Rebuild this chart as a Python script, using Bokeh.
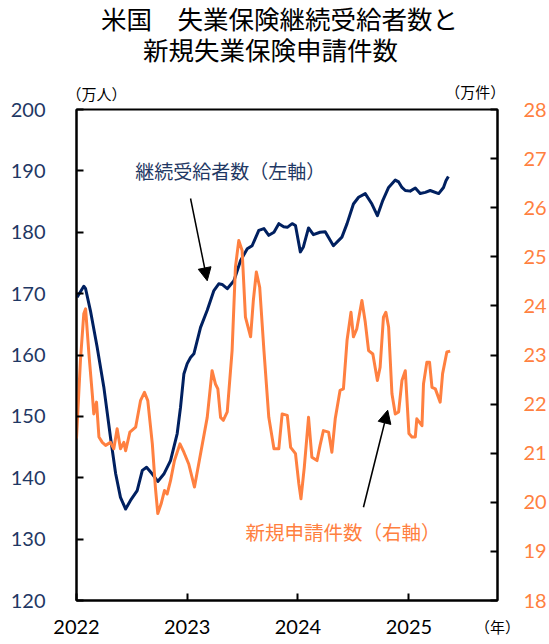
import pandas as pd
from bokeh.plotting import figure
from bokeh.models import (Range1d, LinearAxis, FixedTicker, DatetimeTickFormatter,
                          Label, Arrow, NormalHead)
from bokeh.embed import file_html
from bokeh.resources import INLINE

# ---- data ----
cont_dates = ["2022-01-03", "2022-01-25", "2022-01-31", "2022-02-16", "2022-03-10", "2022-04-01",
              "2022-04-23", "2022-05-10", "2022-05-26", "2022-06-12", "2022-06-28", "2022-07-20",
              "2022-08-06", "2022-08-20", "2022-09-08", "2022-09-26", "2022-10-16", "2022-11-07",
              "2022-11-29", "2022-12-10", "2022-12-21",
              "2023-01-01", "2023-01-12", "2023-01-23", "2023-02-14", "2023-03-08", "2023-03-30",
              "2023-04-15", "2023-04-26", "2023-05-13", "2023-06-04", "2023-06-26", "2023-07-18",
              "2023-08-03", "2023-08-25", "2023-09-11", "2023-09-27", "2023-10-14", "2023-10-30",
              "2023-11-15", "2023-11-27", "2023-12-13", "2023-12-24",
              "2024-01-09", "2024-01-19", "2024-02-05", "2024-02-21", "2024-03-14", "2024-03-31",
              "2024-04-27", "2024-05-25", "2024-06-11", "2024-07-02", "2024-07-19", "2024-08-10",
              "2024-09-01", "2024-09-19", "2024-10-07", "2024-10-26", "2024-11-17", "2024-11-28",
              "2024-12-09", "2024-12-20",
              "2025-01-05", "2025-01-22", "2025-02-07", "2025-02-24", "2025-03-12", "2025-04-09",
              "2025-04-25", "2025-05-03", "2025-05-11"]
cont_values = [169.4, 171.2, 170.8, 167.2, 161.3, 154.8, 146.6, 140.7, 136.8, 134.9, 136.3, 137.9,
               141.2, 141.7, 140.6, 139.4, 140.6, 142.8, 147.2, 151.5, 156.9,
               158.6, 159.6, 160.2, 164.5, 167.3, 170.5, 171.6, 171.5, 170.8, 172.1, 175.4, 177.3,
               177.8, 180.3, 180.6, 179.5, 180.0, 181.4, 180.9, 180.8, 181.4, 181.1,
               176.8, 177.6, 180.7, 179.6, 180.0, 180.1, 177.8, 179.2, 181.4, 184.6, 185.7, 186.3,
               184.6, 182.7, 185.2, 187.3, 188.5, 188.2, 187.3, 186.8,
               186.7, 187.2, 186.3, 186.5, 186.8, 186.3, 187.3, 188.4, 189.1]

init_dates = ["2022-01-01", "2022-01-14", "2022-01-25", "2022-01-31", "2022-02-11", "2022-02-22",
              "2022-02-27", "2022-03-08", "2022-03-16", "2022-03-27", "2022-04-07", "2022-04-23",
              "2022-05-04", "2022-05-15", "2022-05-26", "2022-06-06", "2022-06-12", "2022-06-26",
              "2022-07-15", "2022-07-31", "2022-08-13", "2022-08-24", "2022-09-08", "2022-09-18",
              "2022-09-26", "2022-10-07", "2022-10-18", "2022-10-27", "2022-11-07", "2022-11-20",
              "2022-12-08", "2022-12-21",
              "2023-01-06", "2023-01-25", "2023-02-14", "2023-03-08", "2023-03-24", "2023-04-04",
              "2023-04-12", "2023-04-21", "2023-04-30", "2023-05-13", "2023-05-29", "2023-06-09",
              "2023-06-20", "2023-07-01", "2023-07-12", "2023-07-29", "2023-08-07", "2023-08-17",
              "2023-08-28", "2023-09-11", "2023-09-27", "2023-10-14", "2023-10-30", "2023-11-10",
              "2023-11-27", "2023-12-08", "2023-12-24",
              "2024-01-04", "2024-01-11", "2024-01-22", "2024-02-05", "2024-02-16", "2024-03-04",
              "2024-03-14", "2024-03-25", "2024-04-11", "2024-04-22", "2024-05-03", "2024-05-19",
              "2024-05-30", "2024-06-11", "2024-06-24", "2024-07-02", "2024-07-13", "2024-07-30",
              "2024-08-10", "2024-08-21", "2024-09-04", "2024-09-19", "2024-09-28", "2024-10-09",
              "2024-10-17", "2024-10-26", "2024-11-06", "2024-11-17", "2024-11-28", "2024-12-09",
              "2024-12-20",
              "2025-01-01", "2025-01-11", "2025-01-22", "2025-01-27", "2025-02-13", "2025-02-18",
              "2025-03-01", "2025-03-10", "2025-03-18", "2025-03-29", "2025-04-14", "2025-04-22",
              "2025-05-06", "2025-05-17"]
init_values = [21.3, 22.89, 23.84, 23.94, 23.02, 22.21, 21.80, 22.04, 21.33, 21.22, 21.16, 21.22,
               21.09, 21.50, 21.09, 21.22, 21.05, 21.43, 21.53, 22.07, 22.24, 22.07, 21.19, 20.31,
               19.77, 19.97, 20.24, 20.17, 20.44, 20.85, 21.19, 21.02,
               20.78, 20.31, 20.99, 21.73, 22.68, 22.41, 22.31, 21.73, 21.67, 21.84, 23.09, 24.79,
               25.33, 25.13, 23.77, 23.37, 24.11, 24.69, 24.38, 23.09, 21.73, 21.09, 21.09, 21.80,
               21.77, 21.12, 20.99,
               20.38, 20.07, 20.71, 21.73, 20.92, 20.85, 21.16, 21.46, 21.43, 21.02, 21.70, 22.28,
               22.31, 23.30, 23.87, 23.37, 23.53, 24.11, 23.67, 23.09, 23.02, 22.48, 22.75, 23.77,
               23.87, 23.57, 22.21, 21.80, 21.84, 22.48, 22.68,
               21.40, 21.33, 21.33, 21.70, 21.56, 22.41, 22.85, 22.85, 22.34, 22.31, 22.04, 22.62,
               23.06, 23.08]

year_ticks = ["2022-01-01", "2023-01-01", "2024-01-01", "2025-01-01"]
left_ticks = [120, 130, 140, 150, 160, 170, 180, 190, 200]
right_ticks = [18, 19, 20, 21, 22, 23, 24, 25, 26, 27, 28]
title_lines = ["米国　失業保険継続受給者数と", "新規失業保険申請件数"]
cont_name = "継続受給者数（左軸）"
init_name = "新規申請件数（右軸）"
left_unit = "（万人）"
right_unit = "（万件）"
x_unit = "（年）"

NAVY = "#002060"
NAVY_TXT = "#1F3864"
ORANGE = "#FF8040"
JP = "Noto Sans CJK JP"
# compact-metric family first, CJK glyphs fall back to Noto Sans CJK JP
JP_PANEL = "Liberation Sans, Noto Sans CJK JP"
NUM = "Lato"


def ms(d):
    return pd.Timestamp(d).value / 1e6


p = figure(width=549, height=644, x_axis_type="datetime", output_backend="svg",
           toolbar_location=None,
           x_range=Range1d(pd.Timestamp("2022-01-01"), pd.Timestamp("2025-10-20")),
           y_range=Range1d(120, 200),
           min_border_left=76, min_border_right=52, min_border_top=109, min_border_bottom=44)
p.extra_y_ranges = {"r": Range1d(18, 28)}
p.xgrid.visible = False
p.ygrid.visible = False
p.outline_line_color = "black"
p.outline_line_width = 2
p.outline_line_alpha = 1.0
p.background_fill_color = "white"
p.border_fill_color = "white"

# axes
p.yaxis.ticker = FixedTicker(ticks=left_ticks)
p.xaxis.ticker = FixedTicker(ticks=[ms(d) for d in year_ticks])
p.xaxis.formatter = DatetimeTickFormatter(years="%Y", months="%Y", days="%Y", hours="%Y",
                                          minutes="%Y", seconds="%Y", milliseconds="%Y",
                                          microseconds="%Y", hourmin="%Y", minsec="%Y")
raxis = LinearAxis(y_range_name="r", ticker=FixedTicker(ticks=right_ticks))
p.add_layout(raxis, "right")

for ax in [p.xaxis[0], p.yaxis[0], raxis]:
    ax.axis_line_color = "black"
    ax.axis_line_width = 2
    ax.major_tick_line_color = "black"
    ax.major_tick_line_width = 2
    ax.major_tick_in = 7
    ax.major_tick_out = 0
    ax.minor_tick_line_color = None
    ax.major_label_text_font = NUM
    ax.major_label_text_font_size = "20px"

p.yaxis[0].major_label_text_color = NAVY_TXT
p.yaxis[0].major_label_standoff = 31
raxis.major_label_text_color = ORANGE
raxis.major_label_standoff = 26
p.xaxis[0].major_label_text_color = "black"
p.xaxis[0].major_label_standoff = 19

# series
cd = pd.to_datetime(cont_dates)
idt = pd.to_datetime(init_dates)
p.line(cd, cont_values, line_color=NAVY, line_width=3, line_join="round")
p.line(idt, init_values, line_color=ORANGE, line_width=3, line_join="round", y_range_name="r")

# titles and units (placed in the top panel so they are not clipped to the frame)
p.add_layout(Label(x=ms("2023-11-01"), y=214.6, text=title_lines[0], text_font=JP_PANEL,
                   text_font_size="25.5px", text_align="center", text_baseline="middle",
                   text_color="black"), "above")
p.add_layout(Label(x=ms("2023-10-03"), y=209.5, text=title_lines[1], text_font=JP_PANEL,
                   text_font_size="25.5px", text_align="center", text_baseline="middle",
                   text_color="black"), "above")
p.add_layout(Label(x=ms("2022-03-08"), y=202.5, text=left_unit, text_font=JP_PANEL,
                   text_font_size="15px", text_align="center", text_baseline="middle",
                   text_color="black"), "above")
p.add_layout(Label(x=ms("2025-08-08"), y=202.8, text=right_unit, text_font=JP_PANEL,
                   text_font_size="15px", text_align="center", text_baseline="middle",
                   text_color="black"), "above")
p.add_layout(Label(x=ms("2025-10-20"), y=115.6, text=x_unit, text_font=JP_PANEL,
                   text_font_size="15px", text_align="center", text_baseline="middle",
                   text_color="black"), "above")

# series annotations
p.add_layout(Label(x=ms("2022-07-14"), y=190.1, text=cont_name, text_font=JP,
                   text_font_size="19px", text_align="left", text_baseline="middle",
                   text_color=NAVY_TXT))
p.add_layout(Label(x=ms("2023-07-12"), y=131.3, text=init_name, text_font=JP,
                   text_font_size="19.5px", text_align="left", text_baseline="middle",
                   text_color=ORANGE))
p.add_layout(Arrow(end=NormalHead(size=13, fill_color="black", line_color="black"),
                   x_start=ms("2023-01-12"), y_start=185.5, x_end=ms("2023-03-08"), y_end=172.1,
                   line_color="black", line_width=1.5))
p.add_layout(Arrow(end=NormalHead(size=13, fill_color="black", line_color="black"),
                   x_start=ms("2024-08-04"), y_start=135.2, x_end=ms("2024-10-23"), y_end=151.0,
                   line_color="black", line_width=1.5))

open("out.html", "w").write(file_html(p, INLINE))
